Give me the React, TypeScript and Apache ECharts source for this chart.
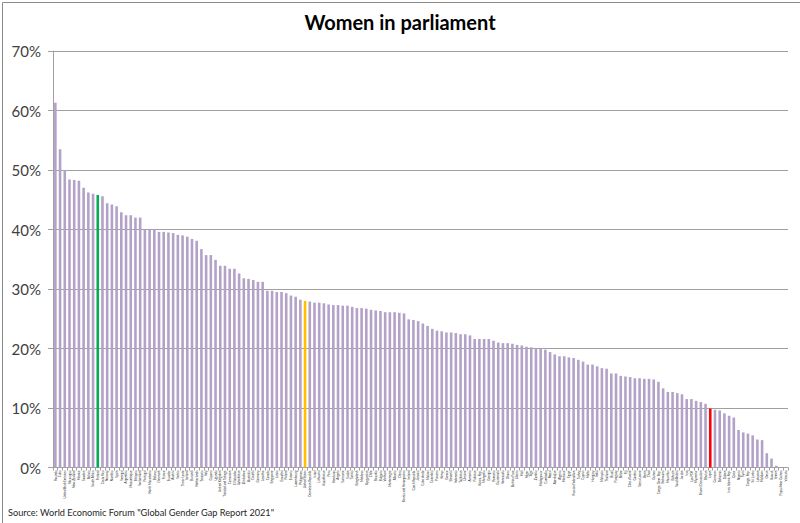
import React, { useEffect, useRef } from "react";
import * as echarts from "echarts";

const countries: string[] = [
  "Rwanda", "Cuba", "United Arab Emirates", "Nicaragua", "New Zealand", "Mexico", "Sweden", "Bolivia", "South Africa", "Finland",
  "Costa Rica", "Norway", "Namibia", "Spain", "Senegal", "Argentina", "Mozambique", "Ethiopia", "Switzerland", "Portugal",
  "North Macedonia", "Belarus", "Denmark", "France", "Ecuador", "Austria", "Serbia", "Timor-Leste", "Iceland", "Burundi",
  "Netherlands", "Tanzania", "Italy", "Guyana", "Uganda", "United Kingdom", "Trinidad and Tobago", "Cameroon", "El Salvador", "Uzbekistan",
  "Zimbabwe", "Australia", "Croatia", "Germany", "Lesotho", "Canada", "Singapore", "Latvia", "Eswatini", "Poland",
  "Estonia", "Luxembourg", "Philippines", "United States", "Dominican Republic", "Israel", "Lithuania", "Kazakhstan", "Peru", "Honduras",
  "Angola", "Suriname", "Sudan", "Tunisia", "Bangladesh", "Moldova", "Kyrgyzstan", "Chile", "Slovakia", "Bulgaria",
  "Vietnam", "Montenegro", "Albania", "China", "Bosnia and Herzegovina", "Ireland", "Czech Republic", "Jamaica", "Cabo Verde", "Malawi",
  "Colombia", "Panama", "Kenya", "Greece", "Slovenia", "Indonesia", "Tajikistan", "Ukraine", "Armenia", "Pakistan",
  "Korea, Rep.", "Mongolia", "Georgia", "Romania", "Guatemala", "Venezuela", "Ghana", "Burkina Faso", "Liberia", "Mali",
  "Niger", "Togo", "Zambia", "Madagascar", "Cambodia", "Nepal", "Azerbaijan", "Algeria", "Morocco", "Egypt",
  "Russian Federation", "Turkey", "Cyprus", "Malta", "Hungary", "India", "Malaysia", "Thailand", "Brazil", "Paraguay",
  "Belize", "Fiji", "Côte d'Ivoire", "Gambia", "Sierra Leone", "Benin", "Chad", "Guinea", "Congo, Dem. Rep.", "Botswana",
  "Mauritius", "Bahrain", "Saudi Arabia", "Jordan", "Iraq", "Lao PDR", "Myanmar", "Brunei Darussalam", "Bhutan", "Japan",
  "Comoros", "Bahamas", "Gabon", "Iran, Islamic Rep.", "Qatar", "Nigeria", "Syria", "Congo, Rep.", "Sri Lanka", "Lebanon",
  "Maldives", "Oman", "Kuwait", "Yemen", "Papua New Guinea", "Vanuatu",
];

const womenInParliament: number[] = [
  61.3, 53.5, 50.0, 48.4, 48.3, 48.2, 47.0, 46.2, 46.0, 45.8,
  45.6, 44.4, 44.2, 43.9, 42.9, 42.4, 42.4, 42.0, 42.0, 40.0,
  40.0, 40.0, 39.6, 39.6, 39.5, 39.4, 39.1, 39.0, 38.8, 38.4,
  38.1, 36.7, 35.7, 35.7, 34.9, 33.9, 33.9, 33.4, 33.4, 32.6,
  31.8, 31.7, 31.5, 31.2, 31.2, 29.7, 29.7, 29.5, 29.5, 29.3,
  28.9, 28.7, 28.2, 28.0, 27.9, 27.7, 27.7, 27.6, 27.4, 27.3,
  27.3, 27.2, 27.2, 27.0, 26.8, 26.8, 26.7, 26.5, 26.4, 26.3,
  26.1, 26.1, 26.1, 26.0, 25.9, 24.9, 24.8, 24.6, 24.2, 23.8,
  23.3, 23.0, 22.9, 22.7, 22.7, 22.6, 22.4, 22.4, 22.2, 21.6,
  21.6, 21.6, 21.6, 21.3, 21.0, 20.9, 20.9, 20.8, 20.6, 20.5,
  20.3, 20.2, 20.0, 20.0, 19.8, 19.4, 19.0, 18.7, 18.7, 18.5,
  18.4, 18.1, 17.8, 17.3, 17.3, 17.0, 16.7, 16.6, 15.8, 15.8,
  15.4, 15.3, 15.2, 15.0, 15.0, 14.9, 14.9, 14.8, 14.4, 13.3,
  12.7, 12.7, 12.5, 12.3, 11.5, 11.5, 11.2, 11.0, 10.7, 9.9,
  9.7, 9.6, 9.1, 8.7, 8.4, 6.3, 5.9, 5.7, 5.4, 4.7,
  4.6, 2.4, 1.5, 0.3, 0, 0,
];

const yTicks: number[] = [0, 10, 20, 30, 40, 50, 60, 70];

const highlightCountries: string[] = ["Finland", "United States", "Japan"];
const highlightColors: string[] = ["#00b050", "#ffc000", "#ff0000"];

const BAR_COLOR = "#b3a2c7";
const GRID_COLOR = "#a0a0a0";

export default function App() {
  const ref = useRef<HTMLDivElement>(null);

  useEffect(() => {
    document.body.style.margin = "0";
    if (!ref.current) return;
    const chart = echarts.init(ref.current, undefined, { renderer: "svg" });

    const data = womenInParliament.map((v, i) => {
      const h = highlightCountries.indexOf(countries[i]);
      return h >= 0 ? { value: v, itemStyle: { color: highlightColors[h] } } : v;
    });

    chart.setOption({
      animation: false,
      backgroundColor: "#ffffff",
      title: {
        text: "Women in parliament",
        left: "center",
        top: 7,
        textStyle: { fontFamily: "Lato", fontWeight: "bold", fontSize: 20, color: "#000000" },
      },
      grid: { left: 53, right: 12, top: 51, bottom: 55.5, containLabel: false },
      xAxis: {
        type: "category",
        data: countries,
        axisLine: { lineStyle: { color: GRID_COLOR, width: 1 } },
        axisTick: { show: true, interval: 0, length: 3, lineStyle: { color: GRID_COLOR } },
        axisLabel: {
          interval: 0,
          rotate: 90,
          fontSize: 3,
          margin: 3,
          color: "#222222",
          fontFamily: "Lato",
        },
      },
      yAxis: {
        type: "value",
        min: yTicks[0],
        max: yTicks[yTicks.length - 1],
        interval: 10,
        axisLine: { show: true, lineStyle: { color: GRID_COLOR, width: 1 } },
        axisTick: { show: true, length: 5, lineStyle: { color: GRID_COLOR } },
        splitLine: { show: true, lineStyle: { color: GRID_COLOR, width: 1 } },
        axisLabel: {
          formatter: "{value}%",
          fontSize: 15,
          fontFamily: "Lato",
          color: "#404040",
          margin: 12,
        },
      },
      series: [
        {
          type: "bar",
          data,
          barWidth: 2.6,
          itemStyle: { color: BAR_COLOR },
        },
      ],
      graphic: [
        {
          type: "rect",
          left: 0,
          top: 0,
          shape: { x: 0.5, y: 0.5, width: 799, height: 522 },
          style: { fill: "none", stroke: "#8c8c8c", lineWidth: 1 },
          silent: true,
        },
        {
          type: "text",
          left: 8,
          top: 508,
          style: {
            text: 'Source: World Economic Forum "Global Gender Gap Report 2021"',
            fontSize: 9.2,
            fontFamily: "Lato",
            fill: "#262626",
          },
        },
      ],
    });

    return () => chart.dispose();
  }, []);

  return (
    <div
      ref={ref}
      style={{ position: "fixed", left: 0, top: 0, width: 800, height: 523 }}
    />
  );
}
